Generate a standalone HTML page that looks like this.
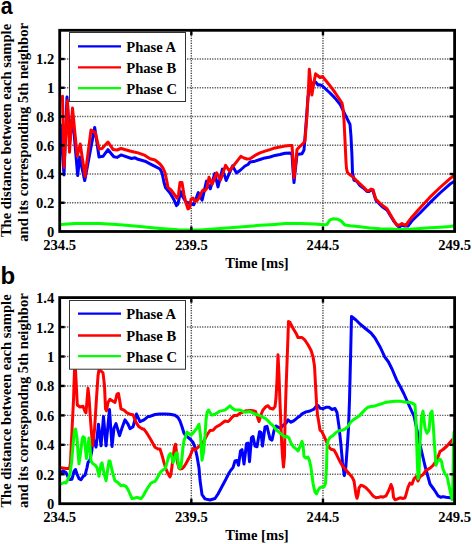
<!DOCTYPE html>
<html><head><meta charset="utf-8"><style>
html,body{margin:0;padding:0;background:#fff;}
body{width:472px;height:544px;overflow:hidden;}
svg{display:block;}
.t{font-family:"Liberation Serif",serif;font-weight:bold;font-size:14.6px;fill:#000;}
.pl{font-family:"Liberation Sans",sans-serif;font-weight:bold;font-size:24px;fill:#000;}
</style></head><body>
<svg width="472" height="544" viewBox="0 0 472 544">
<rect width="472" height="544" fill="#fff"/>
<clipPath id="clipa"><rect x="59.7" y="30.3" width="394.90000000000003" height="201.2"/></clipPath>
<g stroke="#444" stroke-width="1.4" stroke-dasharray="1.1 1.4"><line x1="59.7" y1="202.75" x2="454.6" y2="202.75"/><line x1="59.7" y1="174.00" x2="454.6" y2="174.00"/><line x1="59.7" y1="145.25" x2="454.6" y2="145.25"/><line x1="59.7" y1="116.50" x2="454.6" y2="116.50"/><line x1="59.7" y1="87.75" x2="454.6" y2="87.75"/><line x1="59.7" y1="59.00" x2="454.6" y2="59.00"/><line x1="191.33" y1="30.3" x2="191.33" y2="231.5"/><line x1="322.97" y1="30.3" x2="322.97" y2="231.5"/></g>
<g clip-path="url(#clipa)"><polyline points="60.5,125.0 64.0,175.0 67.0,97.0 70.0,140.0 72.5,115.0 77.7,175.5 79.7,157.0 84.7,180.6 94.7,127.4 99.0,157.0 103.0,156.3 108.0,149.7 113.8,156.8 117.0,157.4 121.0,154.9 131.5,158.5 135.0,157.8 138.0,159.3 145.0,161.2 150.0,163.8 155.0,166.4 160.0,169.0 162.0,172.8 164.0,182.5 165.5,187.6 170.0,193.0 174.0,199.8 176.5,205.6 178.0,203.9 180.5,191.5 182.5,196.5 186.0,202.0 190.0,203.5 193.8,204.7 198.3,192.6 202.1,200.2 206.5,181.1 210.3,188.8 214.8,173.5 218.0,186.9 222.4,169.1 226.2,180.5 232.6,165.9 236.4,172.9 240.0,170.5 245.0,166.0 248.0,164.5 250.0,162.0 255.0,161.2 260.0,159.5 265.0,157.9 270.0,157.0 275.0,155.4 280.0,154.5 285.0,153.2 290.0,152.9 292.0,154.5 293.0,170.0 294.0,182.6 295.5,168.0 297.0,154.5 302.0,153.8 304.0,150.0 306.0,124.3 308.0,96.8 310.0,88.0 313.0,83.0 315.6,82.0 318.0,85.0 320.0,84.8 322.0,85.7 330.0,93.0 335.0,98.1 340.0,104.2 345.0,114.3 350.0,124.4 351.0,136.5 352.0,156.7 352.5,172.9 354.0,180.1 357.0,181.5 360.0,185.5 364.0,188.5 367.0,191.5 369.0,191.5 371.0,190.0 373.0,190.5 374.5,196.0 376.0,200.5 378.0,202.5 381.0,205.5 384.0,208.0 387.0,210.0 390.0,215.0 394.0,221.5 399.0,227.2 402.0,225.0 404.0,226.0 408.0,226.0 412.0,220.8 420.0,213.0 430.0,202.7 440.0,193.0 450.0,184.1 454.0,181.5" fill="none" stroke="#0000ff" stroke-width="3.0" stroke-linejoin="round" stroke-linecap="round"/><polyline points="60.5,100.0 62.5,96.2 64.0,167.4 67.5,100.7 69.5,152.2 72.5,108.0 77.2,156.3 80.2,144.0 85.1,176.2 91.0,129.9 95.4,132.8 99.1,149.0 102.0,148.5 108.0,142.0 113.0,149.4 117.0,150.0 121.0,148.5 130.0,151.0 134.0,152.0 138.0,152.9 145.0,155.4 150.0,158.7 155.0,160.0 160.0,164.0 163.0,168.0 165.0,172.5 167.0,182.0 168.0,187.4 171.0,189.9 174.0,194.0 177.0,198.1 178.5,194.8 180.0,182.4 182.0,182.4 184.0,194.8 186.0,203.1 188.0,208.9 189.5,208.0 191.0,199.0 193.0,198.1 195.0,201.4 197.0,200.6 199.0,198.1 201.0,193.2 203.0,190.0 205.0,190.7 207.0,188.1 209.0,177.3 212.2,184.3 216.7,172.9 220.5,179.9 225.6,165.3 229.4,171.0 240.8,156.4 244.0,158.0 247.0,159.0 250.0,158.7 255.0,155.4 260.0,152.9 265.0,151.2 270.0,149.6 275.0,147.9 280.0,147.1 285.0,146.0 290.0,145.5 292.0,145.5 293.0,160.0 294.0,177.7 295.5,165.0 297.0,149.6 300.0,146.3 303.0,143.6 305.0,140.9 307.0,115.0 308.5,87.6 309.3,69.2 310.5,80.0 311.9,95.0 313.5,85.0 315.6,73.8 320.0,77.5 322.5,76.5 330.0,85.7 335.0,92.5 340.0,100.0 342.0,103.0 343.0,108.2 344.0,120.3 345.0,140.6 346.0,162.0 346.5,168.5 347.5,172.7 350.0,174.8 353.0,177.0 356.0,180.1 360.0,183.8 364.0,187.5 367.0,190.7 369.0,190.7 371.0,189.1 373.0,189.7 374.5,195.0 376.0,199.2 378.0,201.3 381.0,204.0 384.0,206.6 387.0,208.7 390.0,214.0 394.0,220.8 397.0,225.5 400.0,224.7 402.0,223.4 404.0,224.7 406.0,225.5 408.0,222.1 412.0,217.0 416.0,212.5 420.0,208.1 430.0,197.2 440.0,187.5 450.0,178.6 454.0,175.5" fill="none" stroke="#ff0000" stroke-width="3.0" stroke-linejoin="round" stroke-linecap="round"/><polyline points="61.0,224.6 75.0,223.6 100.0,223.6 120.0,224.8 140.0,226.6 160.0,228.4 178.0,229.7 190.0,230.1 200.0,230.1 220.0,228.6 240.0,227.0 260.0,225.3 275.0,224.4 285.0,223.6 300.0,223.6 315.0,224.1 323.0,224.7 327.0,224.5 330.0,219.8 333.0,218.8 338.0,219.2 341.0,220.9 345.0,225.1 350.0,225.8 360.0,226.8 370.0,228.0 380.0,228.7 390.0,229.1 400.0,229.5 410.0,229.3 420.0,228.6 430.0,227.8 440.0,227.2 450.0,226.4 454.0,225.8" fill="none" stroke="#00ff00" stroke-width="3.0" stroke-linejoin="round" stroke-linecap="round"/></g>
<rect x="69.5" y="32.5" width="116.0" height="69.0" fill="#fff" stroke="#333" stroke-width="1"/>
<line x1="78" y1="46.4" x2="121" y2="46.4" stroke="#0000ff" stroke-width="2.3"/>
<text x="126.3" y="52.4" class="t">Phase A</text>
<line x1="78" y1="67.4" x2="121" y2="67.4" stroke="#ff0000" stroke-width="2.3"/>
<text x="126.3" y="73.4" class="t">Phase B</text>
<line x1="78" y1="88.2" x2="121" y2="88.2" stroke="#00ff00" stroke-width="2.3"/>
<text x="126.3" y="94.2" class="t">Phase C</text>
<g stroke="#000" stroke-width="2.4"><line x1="59.7" y1="202.75" x2="64.7" y2="202.75"/><line x1="449.6" y1="202.75" x2="454.6" y2="202.75"/><line x1="59.7" y1="174.00" x2="64.7" y2="174.00"/><line x1="449.6" y1="174.00" x2="454.6" y2="174.00"/><line x1="59.7" y1="145.25" x2="64.7" y2="145.25"/><line x1="449.6" y1="145.25" x2="454.6" y2="145.25"/><line x1="59.7" y1="116.50" x2="64.7" y2="116.50"/><line x1="449.6" y1="116.50" x2="454.6" y2="116.50"/><line x1="59.7" y1="87.75" x2="64.7" y2="87.75"/><line x1="449.6" y1="87.75" x2="454.6" y2="87.75"/><line x1="59.7" y1="59.00" x2="64.7" y2="59.00"/><line x1="449.6" y1="59.00" x2="454.6" y2="59.00"/><line x1="191.33" y1="30.3" x2="191.33" y2="35.3"/><line x1="191.33" y1="226.5" x2="191.33" y2="231.5"/><line x1="322.97" y1="30.3" x2="322.97" y2="35.3"/><line x1="322.97" y1="226.5" x2="322.97" y2="231.5"/></g>
<rect x="59.7" y="30.3" width="394.90000000000003" height="201.2" fill="none" stroke="#000" stroke-width="2.8"/>
<text x="54.2" y="236.9" text-anchor="end" class="t">0</text><text x="54.2" y="208.2" text-anchor="end" class="t">0.2</text><text x="54.2" y="179.4" text-anchor="end" class="t">0.4</text><text x="54.2" y="150.7" text-anchor="end" class="t">0.6</text><text x="54.2" y="121.9" text-anchor="end" class="t">0.8</text><text x="54.2" y="93.2" text-anchor="end" class="t">1</text><text x="54.2" y="64.4" text-anchor="end" class="t">1.2</text><text x="59.7" y="249.5" text-anchor="middle" class="t">234.5</text><text x="191.3" y="249.5" text-anchor="middle" class="t">239.5</text><text x="323.0" y="249.5" text-anchor="middle" class="t">244.5</text><text x="454.6" y="249.5" text-anchor="middle" class="t">249.5</text><text x="257" y="267.5" text-anchor="middle" class="t">Time [ms]</text><text transform="translate(10.8,130.5) rotate(-90)" text-anchor="middle" class="t">The distance between each sample</text><text transform="translate(27.7,132.4) rotate(-90)" text-anchor="middle" class="t">and its corresponding 5th neighbor</text>
<text transform="translate(0.7,13.8) scale(0.89,1.02)" class="pl">a</text>
<clipPath id="clipb"><rect x="59.7" y="297.6" width="394.90000000000003" height="206.09999999999997"/></clipPath>
<g stroke="#444" stroke-width="1.4" stroke-dasharray="1.1 1.4"><line x1="59.7" y1="474.26" x2="454.6" y2="474.26"/><line x1="59.7" y1="444.82" x2="454.6" y2="444.82"/><line x1="59.7" y1="415.38" x2="454.6" y2="415.38"/><line x1="59.7" y1="385.94" x2="454.6" y2="385.94"/><line x1="59.7" y1="356.50" x2="454.6" y2="356.50"/><line x1="59.7" y1="327.06" x2="454.6" y2="327.06"/><line x1="191.33" y1="297.6" x2="191.33" y2="503.7"/><line x1="322.97" y1="297.6" x2="322.97" y2="503.7"/></g>
<g clip-path="url(#clipb)"><polyline points="61.0,473.0 63.0,470.8 66.0,472.5 68.0,477.0 70.0,479.5 72.0,479.2 74.0,471.5 75.5,469.5 77.0,474.0 79.0,478.6 81.0,479.8 83.0,476.6 85.0,475.3 87.0,467.6 88.0,462.5 90.0,459.9 91.8,451.0 93.0,438.2 96.0,447.1 98.5,424.2 101.0,445.8 103.5,416.6 106.0,445.8 109.5,409.6 112.0,446.5 114.0,428.0 116.0,423.6 119.5,435.7 122.0,428.0 125.0,419.8 128.0,424.2 130.0,428.7 133.0,426.8 136.5,414.0 140.0,421.7 144.0,419.8 148.0,416.6 150.0,416.4 155.0,414.5 160.0,414.0 165.0,413.9 170.0,414.3 175.0,415.3 178.0,417.5 180.0,421.0 182.0,426.7 184.0,433.2 186.0,435.7 190.0,439.0 193.0,442.2 195.0,447.3 197.0,456.3 199.0,467.9 200.0,480.0 202.0,494.6 205.0,498.9 210.0,500.0 215.0,498.5 218.0,494.0 222.0,486.5 226.0,479.0 229.0,473.0 231.0,470.0 233.0,467.6 235.0,461.0 237.0,460.5 238.5,465.2 240.5,450.9 242.0,449.7 244.0,464.0 246.5,443.7 248.0,443.1 249.5,461.7 251.5,437.7 253.0,436.5 255.0,446.1 257.0,446.7 259.5,431.7 261.0,432.3 262.5,446.1 265.0,427.0 267.0,426.4 270.0,438.9 272.0,440.1 274.0,430.6 276.0,426.0 280.0,428.1 283.0,425.6 286.0,423.1 288.0,419.8 291.0,422.3 294.0,420.6 297.0,418.1 300.0,416.0 302.0,413.8 306.0,411.9 310.0,411.0 314.0,409.2 316.0,406.4 318.0,405.5 320.0,408.2 323.0,408.6 326.0,407.3 329.0,407.3 332.0,409.5 335.0,408.5 337.0,412.5 339.0,426.6 341.0,445.3 342.5,462.5 344.3,475.5 345.5,471.4 346.5,457.6 347.5,443.8 348.5,428.0 349.5,400.0 350.5,360.0 351.5,316.5 356.0,320.0 360.0,324.0 366.0,329.0 371.0,333.0 375.0,338.0 380.4,347.5 384.7,356.9 388.5,362.0 392.0,369.0 396.5,379.7 400.1,386.3 404.0,394.0 407.5,401.8 410.0,407.5 414.1,416.5 417.0,430.0 420.0,444.5 425.0,466.0 430.0,484.0 434.0,489.5 436.0,492.5 438.0,495.8 441.0,497.3 443.0,496.6 446.0,497.3 450.0,497.7 454.0,497.7" fill="none" stroke="#0000ff" stroke-width="3.0" stroke-linejoin="round" stroke-linecap="round"/><polyline points="61.0,467.7 66.0,468.4 69.5,468.4 70.5,462.5 71.0,451.0 72.0,430.3 73.5,400.0 74.5,370.0 75.5,370.0 77.3,405.0 80.0,407.0 83.0,406.3 85.0,411.5 86.0,412.8 88.0,388.3 89.0,397.0 90.5,420.0 92.5,445.7 94.5,430.0 96.5,398.0 98.0,376.0 99.0,369.5 101.0,371.0 103.0,372.9 104.5,385.7 105.5,408.9 106.5,410.8 108.0,402.5 110.0,399.3 113.0,401.2 115.0,402.5 117.0,394.1 118.5,393.5 120.0,402.5 121.0,408.9 124.0,410.2 127.0,412.8 130.0,414.2 133.0,414.7 134.0,417.2 136.0,422.3 139.0,426.8 142.0,428.7 144.0,429.3 146.0,431.9 148.0,435.0 151.0,440.0 155.0,447.2 158.0,449.0 160.0,449.0 162.0,455.2 164.0,462.6 166.0,469.0 168.0,473.6 170.0,476.9 171.0,473.6 172.0,466.3 173.0,458.0 174.5,447.0 175.5,444.2 176.5,451.6 177.5,462.6 179.0,468.1 180.0,469.0 182.0,468.6 184.0,466.7 186.0,463.5 188.0,459.8 190.0,456.2 193.0,448.6 195.0,449.9 198.0,447.3 201.0,444.7 204.0,440.9 207.0,435.0 210.0,430.5 213.0,430.2 216.0,427.0 220.0,424.9 225.0,421.0 228.0,421.6 230.0,419.8 232.0,417.4 234.0,415.6 237.0,415.4 240.0,413.3 245.0,411.1 250.0,410.4 253.0,410.7 255.5,411.5 257.0,415.7 259.0,421.5 261.0,414.8 263.0,409.9 266.0,406.6 268.0,405.7 270.0,408.2 273.0,409.0 275.0,406.6 276.0,398.3 277.0,380.0 278.0,354.7 279.0,375.0 279.5,390.0 280.5,414.8 281.5,439.7 282.5,456.2 283.5,467.0 284.5,456.2 285.0,423.1 286.0,390.0 287.5,350.0 288.5,321.6 290.0,322.4 293.0,328.2 296.0,333.2 298.0,337.5 302.0,337.5 305.0,340.2 308.0,344.8 311.0,350.3 313.0,356.8 314.5,366.0 315.5,384.3 316.5,402.7 317.5,415.0 318.5,420.5 320.0,430.1 322.0,431.8 324.0,436.2 326.0,440.6 329.0,447.2 331.0,449.3 334.0,450.0 336.0,453.4 338.0,457.6 340.0,461.7 343.0,466.6 346.0,470.0 349.0,473.4 352.0,476.9 354.0,481.0 355.0,487.9 356.0,494.8 357.0,498.3 358.0,494.8 359.0,487.9 361.0,485.2 363.0,485.9 366.0,487.7 370.0,492.1 373.0,495.9 376.0,497.8 379.0,497.2 381.0,496.6 383.0,497.2 386.0,495.9 389.0,490.0 391.0,484.5 392.5,488.3 393.5,497.2 395.0,499.7 397.0,499.1 400.0,497.8 403.0,498.5 405.0,497.8 406.0,494.7 408.0,487.3 410.0,483.0 412.0,484.1 414.0,478.8 416.0,476.7 418.0,480.9 420.0,476.7 423.0,474.6 426.0,470.3 430.0,468.2 433.0,465.5 436.0,461.0 438.0,457.0 440.0,451.5 443.0,449.5 447.0,446.0 450.0,442.5 453.0,439.0 454.0,438.5" fill="none" stroke="#ff0000" stroke-width="3.0" stroke-linejoin="round" stroke-linecap="round"/><polyline points="61.0,484.0 64.0,482.5 66.0,483.0 68.0,479.2 70.0,474.0 71.5,462.5 73.0,445.7 74.5,430.3 75.5,429.0 77.0,438.0 78.0,452.2 79.0,463.8 80.5,453.5 82.0,440.6 83.0,436.7 84.5,438.0 85.5,449.6 86.5,458.6 88.0,445.7 89.0,438.0 90.0,447.0 91.0,461.2 93.0,463.8 95.0,465.0 97.0,467.6 98.5,474.0 99.0,476.2 101.0,464.2 102.0,462.9 104.0,473.0 106.0,480.7 107.0,474.3 109.0,461.0 110.0,461.0 113.0,474.3 115.0,480.7 118.0,482.6 121.0,485.8 123.0,485.1 126.0,486.4 128.0,489.6 130.0,494.0 132.0,498.6 135.0,498.0 137.0,497.4 139.0,498.0 141.0,498.6 143.0,496.2 145.0,492.6 147.0,489.0 149.0,486.0 151.0,483.0 153.0,482.1 155.0,481.3 157.0,478.3 159.0,474.7 161.0,471.7 163.0,469.9 165.0,469.0 167.0,462.6 169.0,455.2 170.5,453.4 172.0,457.1 173.0,462.6 174.5,458.9 176.0,453.4 177.0,452.5 178.0,460.8 179.0,467.2 180.0,468.1 181.0,466.3 182.0,458.0 183.0,447.0 184.0,440.5 185.5,436.8 187.0,432.0 189.0,433.8 191.0,435.1 194.0,431.9 197.0,428.0 199.0,424.2 200.5,435.7 201.5,452.5 202.0,460.2 203.5,452.5 205.0,435.7 206.0,420.3 207.0,412.6 208.5,410.0 210.0,412.6 212.0,415.1 215.0,414.3 220.0,411.1 225.0,410.1 230.0,405.9 232.0,408.0 235.0,410.1 240.0,410.1 245.0,412.2 250.0,411.5 255.0,414.0 260.0,415.7 263.0,417.3 265.0,418.1 267.0,419.8 270.0,423.1 273.0,425.6 276.0,429.7 279.0,432.2 282.0,434.7 285.0,437.2 287.0,436.4 289.0,438.0 291.0,443.0 293.0,446.3 296.0,448.8 298.0,451.0 300.0,446.7 302.0,441.4 303.0,444.9 304.0,456.3 306.0,458.0 308.0,457.1 309.5,460.6 311.0,467.6 313.0,483.3 315.0,492.1 316.5,493.8 318.0,490.3 320.0,487.7 322.0,486.8 324.0,486.8 325.5,483.3 326.5,467.6 327.0,448.0 328.0,440.5 330.0,437.6 333.0,435.5 336.0,432.5 339.0,430.8 342.0,430.3 345.0,429.2 348.0,426.5 350.0,423.0 353.0,420.0 356.0,418.0 359.0,416.1 362.0,412.9 365.0,409.7 368.0,407.2 371.0,406.5 375.0,405.9 380.0,404.3 385.0,402.6 390.0,401.8 395.0,401.2 400.0,401.3 405.0,402.0 410.0,402.5 413.0,403.5 415.0,405.0 416.0,421.7 417.0,453.4 418.0,478.8 419.0,474.6 420.0,442.9 421.5,417.5 423.0,411.1 425.0,428.0 427.0,433.3 429.0,430.2 430.5,413.3 432.0,411.1 433.0,421.7 434.5,445.0 436.0,465.3 437.5,461.5 440.0,459.0 441.5,461.4 443.0,469.0 445.0,473.9 447.0,476.3 449.0,485.6 451.0,495.0 452.2,499.7 453.0,480.0 453.5,440.0 454.0,432.0" fill="none" stroke="#00ff00" stroke-width="3.0" stroke-linejoin="round" stroke-linecap="round"/></g>
<rect x="69.5" y="300.5" width="116.0" height="68.69999999999999" fill="#fff" stroke="#333" stroke-width="1"/>
<line x1="78" y1="313.7" x2="121" y2="313.7" stroke="#0000ff" stroke-width="2.3"/>
<text x="126.3" y="319.2" class="t">Phase A</text>
<line x1="78" y1="335.5" x2="121" y2="335.5" stroke="#ff0000" stroke-width="2.3"/>
<text x="126.3" y="341.0" class="t">Phase B</text>
<line x1="78" y1="356.1" x2="121" y2="356.1" stroke="#00ff00" stroke-width="2.3"/>
<text x="126.3" y="361.6" class="t">Phase C</text>
<g stroke="#000" stroke-width="2.4"><line x1="59.7" y1="474.26" x2="64.7" y2="474.26"/><line x1="449.6" y1="474.26" x2="454.6" y2="474.26"/><line x1="59.7" y1="444.82" x2="64.7" y2="444.82"/><line x1="449.6" y1="444.82" x2="454.6" y2="444.82"/><line x1="59.7" y1="415.38" x2="64.7" y2="415.38"/><line x1="449.6" y1="415.38" x2="454.6" y2="415.38"/><line x1="59.7" y1="385.94" x2="64.7" y2="385.94"/><line x1="449.6" y1="385.94" x2="454.6" y2="385.94"/><line x1="59.7" y1="356.50" x2="64.7" y2="356.50"/><line x1="449.6" y1="356.50" x2="454.6" y2="356.50"/><line x1="59.7" y1="327.06" x2="64.7" y2="327.06"/><line x1="449.6" y1="327.06" x2="454.6" y2="327.06"/><line x1="191.33" y1="297.6" x2="191.33" y2="302.6"/><line x1="191.33" y1="498.7" x2="191.33" y2="503.7"/><line x1="322.97" y1="297.6" x2="322.97" y2="302.6"/><line x1="322.97" y1="498.7" x2="322.97" y2="503.7"/></g>
<rect x="59.7" y="297.6" width="394.90000000000003" height="206.09999999999997" fill="none" stroke="#000" stroke-width="2.8"/>
<text x="54.2" y="509.1" text-anchor="end" class="t">0</text><text x="54.2" y="479.7" text-anchor="end" class="t">0.2</text><text x="54.2" y="450.2" text-anchor="end" class="t">0.4</text><text x="54.2" y="420.8" text-anchor="end" class="t">0.6</text><text x="54.2" y="391.3" text-anchor="end" class="t">0.8</text><text x="54.2" y="361.9" text-anchor="end" class="t">1</text><text x="54.2" y="332.5" text-anchor="end" class="t">1.2</text><text x="54.2" y="303.0" text-anchor="end" class="t">1.4</text><text x="59.7" y="521.7" text-anchor="middle" class="t">234.5</text><text x="191.3" y="521.7" text-anchor="middle" class="t">239.5</text><text x="323.0" y="521.7" text-anchor="middle" class="t">244.5</text><text x="454.6" y="521.7" text-anchor="middle" class="t">249.5</text><text x="257" y="539.7" text-anchor="middle" class="t">Time [ms]</text><text transform="translate(10.8,401.0) rotate(-90)" text-anchor="middle" class="t">The distance between each sample</text><text transform="translate(27.7,400.6) rotate(-90)" text-anchor="middle" class="t">and its correspondng 5th neighbor</text>
<text x="0.5" y="284.0" class="pl">b</text>
</svg>
</body></html>
